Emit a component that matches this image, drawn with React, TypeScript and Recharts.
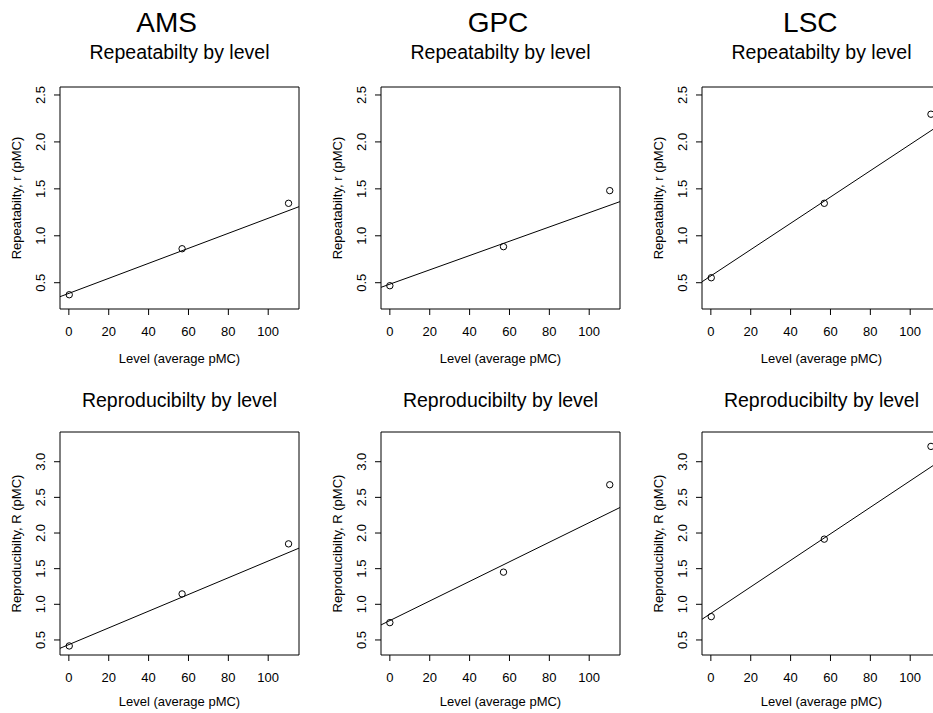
import React from 'react';
import {
  ComposedChart, Scatter, Line, XAxis, YAxis, ReferenceArea,
} from 'recharts';

// levels (average pMC) and precision values
const methods = ['AMS', 'GPC', 'LSC'];
const levelsAMS = [0.2, 56.8, 110.2];
const levelsGPC = [0.0, 57.0, 110.3];
const levelsLSC = [0.2, 56.9, 110.4];

const repeatAMS = [0.372, 0.862, 1.346];
const repeatGPC = [0.468, 0.884, 1.481];
const repeatLSC = [0.553, 1.346, 2.295];

const reproAMS = [0.416, 1.146, 1.848];
const reproGPC = [0.743, 1.451, 2.677];
const reproLSC = [0.827, 1.914, 3.215];

// fitted line, value at the left and right edge of the plot box
const fitEdges = [-4.44, 115.44];
const repeatFitAMS = [0.351, 1.31];
const repeatFitGPC = [0.451, 1.364];
const repeatFitLSC = [0.51, 2.19];
const reproFitAMS = [0.383, 1.788];
const reproFitGPC = [0.711, 2.358];
const reproFitLSC = [0.79, 3.02];

const xTicks = [0, 20, 40, 60, 80, 100];
const repeatTicks = [0.5, 1.0, 1.5, 2.0, 2.5];
const reproTicks = [0.5, 1.0, 1.5, 2.0, 2.5, 3.0];

const X_DOMAIN: [number, number] = [-4.44, 115.44];
const REPEAT_DOMAIN: [number, number] = [0.22, 2.585];
const REPRO_DOMAIN: [number, number] = [0.289, 3.417];

const FONT = "'Liberation Sans', Arial, Helvetica, sans-serif";

const boxLefts = [60, 381, 702];
const titleCenters = [166.7, 498, 810.3];
const BOX_W = 239;

const rows = [
  {
    top: 87, height: 222, title: 'Repeatabilty by level', titleY: 59.3, xLabelY: 363,
    yLabel: 'Repeatabilty, r (pMC)', ticks: repeatTicks, domain: REPEAT_DOMAIN,
    values: [repeatAMS, repeatGPC, repeatLSC], fits: [repeatFitAMS, repeatFitGPC, repeatFitLSC],
  },
  {
    top: 432, height: 223, title: 'Reproducibilty by level', titleY: 406.5, xLabelY: 706,
    yLabel: 'Reproducibilty, R (pMC)', ticks: reproTicks, domain: REPRO_DOMAIN,
    values: [reproAMS, reproGPC, reproLSC], fits: [reproFitAMS, reproFitGPC, reproFitLSC],
  },
];
const levels = [levelsAMS, levelsGPC, levelsLSC];

const RotatedTick = (props: any) => {
  const { x, y, payload } = props;
  return (
    <text x={x} y={y} transform={`rotate(-90 ${x} ${y})`} textAnchor="middle"
      fontSize={13} fill="#000" fontFamily={FONT}>
      {Number(payload.value).toFixed(1)}
    </text>
  );
};

const OpenCircle = (props: any) => (
  <circle cx={props.cx} cy={props.cy} r={3.2} fill="none" stroke="#000" strokeWidth={1} />
);

function Panel({ col, row }: { col: number; row: number }) {
  const r = rows[row];
  const pts = levels[col].map((x, i) => ({ x, y: r.values[col][i] }));
  const fit = fitEdges.map((x, i) => ({ x, y: r.fits[col][i] }));
  return (
    <div style={{ position: 'absolute', left: boxLefts[col] - 60, top: r.top - 10 }}>
      <ComposedChart width={60 + BOX_W + 10} height={10 + r.height + 30}
        margin={{ top: 10, right: 10, bottom: 0, left: 0 }}>
        <XAxis type="number" dataKey="x" domain={X_DOMAIN} allowDataOverflow ticks={xTicks}
          interval={0} axisLine={false} tickSize={6} tickMargin={11.5} height={30}
          tickLine={{ stroke: '#000' }} tick={{ fontSize: 13, fill: '#000', fontFamily: FONT }} />
        <YAxis type="number" dataKey="y" domain={r.domain} allowDataOverflow ticks={r.ticks}
          interval={0} axisLine={false} tickSize={6} tickMargin={9} width={60}
          tickLine={{ stroke: '#000' }} tick={<RotatedTick />} />
        <Line data={fit} dataKey="y" stroke="#000" strokeWidth={1} dot={false}
          isAnimationActive={false} />
        <Scatter data={pts} dataKey="y" shape={<OpenCircle />} isAnimationActive={false} />
        <ReferenceArea x1={X_DOMAIN[0]} x2={X_DOMAIN[1]} y1={r.domain[0]} y2={r.domain[1]}
          fill="none" fillOpacity={0} stroke="#000" strokeWidth={1} />
      </ComposedChart>
    </div>
  );
}

export default function App() {
  return (
    <div style={{
      position: 'absolute', left: 0, top: 0, width: 933, height: 713,
      overflow: 'hidden', background: '#fff', fontFamily: FONT,
    }}>
      {rows.map((_, row) => methods.map((m, col) => <Panel key={m + row} col={col} row={row} />))}
      <svg width={933} height={713} style={{ position: 'absolute', left: 0, top: 0, pointerEvents: 'none' }}
        fontFamily={FONT} fill="#000">
        {methods.map((m, col) => (
          <text key={m} x={titleCenters[col]} y={32.3} fontSize={28} textAnchor="middle">{m}</text>
        ))}
        {rows.map((r, row) => methods.map((m, col) => {
          const cx = boxLefts[col] + BOX_W / 2;
          const cy = r.top + r.height / 2;
          const lx = boxLefts[col] - 39.5;
          return (
            <g key={`${m}-${row}`}>
              <text x={cx} y={r.titleY} fontSize={19.5} textAnchor="middle">{r.title}</text>
              <text x={cx} y={r.xLabelY} fontSize={13} textAnchor="middle">Level (average pMC)</text>
              <text x={lx} y={cy} fontSize={13} textAnchor="middle"
                transform={`rotate(-90 ${lx} ${cy})`}>{r.yLabel}</text>
            </g>
          );
        }))}
      </svg>
    </div>
  );
}
